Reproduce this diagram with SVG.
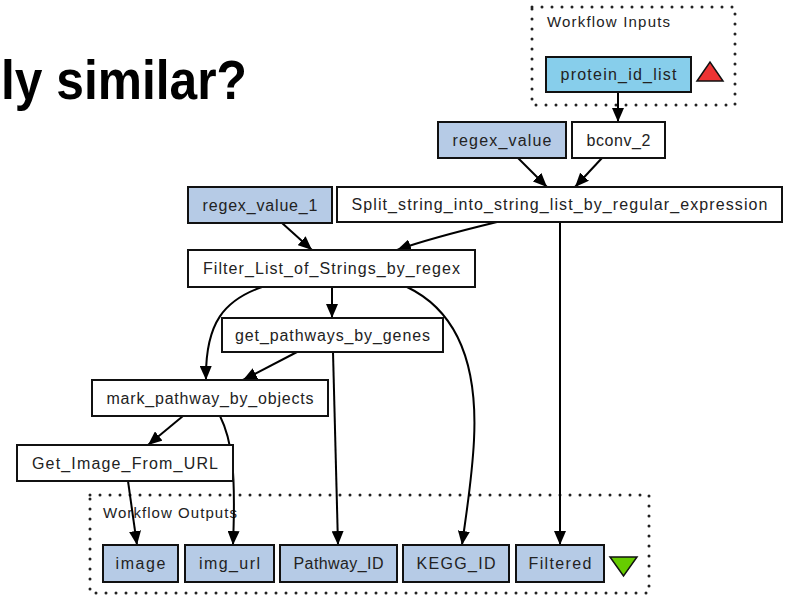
<svg xmlns="http://www.w3.org/2000/svg" width="787" height="597" viewBox="0 0 787 597">
  <defs>
    <marker id="arrow" markerUnits="userSpaceOnUse" viewBox="0 0 14 12" refX="14" refY="6" markerWidth="14" markerHeight="12" orient="auto">
      <path d="M0,0 L14,6 L0,12 z" fill="#000"/>
    </marker>
    <style>
      .title { font-family: "Liberation Sans", Arial, sans-serif; font-weight: bold; font-size: 56px; fill: #000; }
      .cluster { fill: none; stroke: #222; stroke-width: 3; stroke-linecap: round; stroke-dasharray: 0 10; }
      .ctext { font-family: "Liberation Sans", Arial, sans-serif; font-size: 15px; fill: #222; }
      .box { stroke: #111; stroke-width: 2; }
      .proc { fill: #ffffff; }
      .port { fill: #b6cbe6; }
      .input { fill: #87ceeb; }
      .label { font-family: "Liberation Sans", Arial, sans-serif; font-size: 16px; fill: #222; text-anchor: middle; }
      .edge { fill: none; stroke: #000; stroke-width: 2; marker-end: url(#arrow); }
    </style>
  </defs>
  <rect width="787" height="597" fill="#ffffff"/>

  <text class="title" x="1" y="99" textLength="246" lengthAdjust="spacingAndGlyphs">ly similar?</text>

  <!-- clusters -->
  <g id="cluster_inputs">
    <rect class="cluster" x="532" y="7" width="203" height="98"/>
    <text class="ctext" x="547" y="27" textLength="123" lengthAdjust="spacing">Workflow Inputs</text>
    <polygon points="697,81 710,62 723,81" fill="#ee3333" stroke="#111" stroke-width="1.5"/>
  </g>
  <g id="cluster_outputs">
    <rect class="cluster" x="90" y="495" width="559" height="98"/>
    <text class="ctext" x="103" y="518" textLength="134" lengthAdjust="spacing">Workflow Outputs</text>
    <polygon points="610,557 637,557 623.5,576" fill="#66cc00" stroke="#111" stroke-width="1.5"/>
  </g>

  <!-- connectors -->
  <g id="edges">
    <path class="edge" d="M618,92 L618,122"/>
    <path class="edge" d="M518,158 L547,187"/>
    <path class="edge" d="M602,158 L575,187"/>
    <path class="edge" d="M282,223 L312,250"/>
    <path class="edge" d="M497,222 C460,231 422,241 397,250"/>
    <path class="edge" d="M560,222 L560,545"/>
    <path class="edge" d="M332,287 L332,318"/>
    <path class="edge" d="M262,287 C225,300 205,322 206,380"/>
    <path class="edge" d="M407,287 C455,310 478,360 474,440 C472,480 466,515 462,545"/>
    <path class="edge" d="M297,352 L243,380"/>
    <path class="edge" d="M333,352 L338,545"/>
    <path class="edge" d="M183,416 L148,445"/>
    <path class="edge" d="M220,416 C232,440 236,470 233,545"/>
    <path class="edge" d="M128,481 L137,545"/>
  </g>

  <!-- nodes -->
  <g id="protein_id_list">
    <rect class="box input" x="546" y="57" width="145" height="35"/>
    <text class="label" x="618.5" y="80" textLength="116" lengthAdjust="spacing">protein_id_list</text>
  </g>
  <g id="regex_value">
    <rect class="box port" x="438" y="122" width="128" height="36"/>
    <text class="label" x="502" y="146" textLength="99" lengthAdjust="spacing">regex_value</text>
  </g>
  <g id="bconv_2">
    <rect class="box proc" x="572" y="122" width="93" height="36"/>
    <text class="label" x="618.5" y="146" textLength="64" lengthAdjust="spacing">bconv_2</text>
  </g>
  <g id="regex_value_1">
    <rect class="box port" x="188" y="187" width="144" height="36"/>
    <text class="label" x="260" y="211" textLength="115" lengthAdjust="spacing">regex_value_1</text>
  </g>
  <g id="split_string">
    <rect class="box proc" x="337" y="187" width="445" height="35"/>
    <text class="label" x="559.5" y="210" textLength="416" lengthAdjust="spacing">Split_string_into_string_list_by_regular_expression</text>
  </g>
  <g id="filter_list">
    <rect class="box proc" x="188" y="250" width="287" height="37"/>
    <text class="label" x="331.5" y="274" textLength="257" lengthAdjust="spacing">Filter_List_of_Strings_by_regex</text>
  </g>
  <g id="get_pathways_by_genes">
    <rect class="box proc" x="222" y="318" width="221" height="34"/>
    <text class="label" x="332.5" y="341" textLength="195" lengthAdjust="spacing">get_pathways_by_genes</text>
  </g>
  <g id="mark_pathway_by_objects">
    <rect class="box proc" x="92" y="380" width="236" height="36"/>
    <text class="label" x="210" y="404" textLength="207" lengthAdjust="spacing">mark_pathway_by_objects</text>
  </g>
  <g id="get_image_from_url">
    <rect class="box proc" x="17" y="445" width="216" height="36"/>
    <text class="label" x="125" y="469" textLength="186" lengthAdjust="spacing">Get_Image_From_URL</text>
  </g>
  <g id="image">
    <rect class="box port" x="103" y="545" width="75" height="37"/>
    <text class="label" x="140.5" y="569" textLength="50" lengthAdjust="spacing">image</text>
  </g>
  <g id="img_url">
    <rect class="box port" x="185" y="545" width="89" height="37"/>
    <text class="label" x="229.5" y="569" textLength="61" lengthAdjust="spacing">img_url</text>
  </g>
  <g id="pathway_id">
    <rect class="box port" x="280" y="545" width="117" height="37"/>
    <text class="label" x="338.5" y="569" textLength="90" lengthAdjust="spacing">Pathway_ID</text>
  </g>
  <g id="kegg_id">
    <rect class="box port" x="403" y="545" width="106" height="37"/>
    <text class="label" x="456" y="569" textLength="79" lengthAdjust="spacing">KEGG_ID</text>
  </g>
  <g id="filtered">
    <rect class="box port" x="516" y="545" width="88" height="37"/>
    <text class="label" x="560" y="569" textLength="63" lengthAdjust="spacing">Filtered</text>
  </g>
</svg>
